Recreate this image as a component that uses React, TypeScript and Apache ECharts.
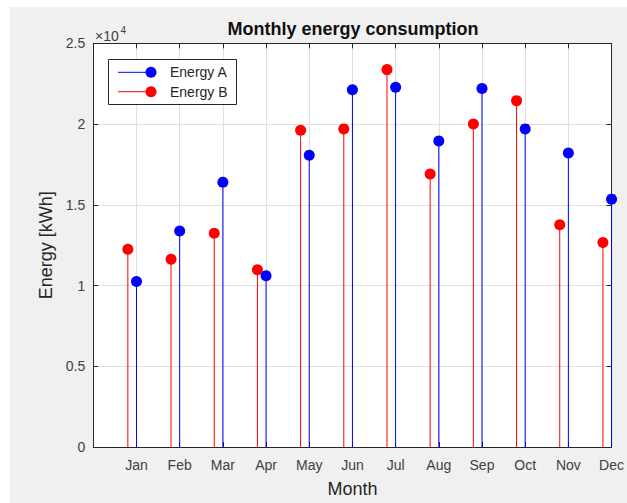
import React, { useEffect, useRef } from "react";
import * as echarts from "echarts";

const months = ["Jan", "Feb", "Mar", "Apr", "May", "Jun", "Jul", "Aug", "Sep", "Oct", "Nov", "Dec"];
const energyA = [10250, 13370, 16400, 10610, 18070, 22120, 22280, 18950, 22200, 19700, 18210, 15350];
const energyB = [12240, 11630, 13230, 10980, 19620, 19700, 23370, 16910, 20000, 21450, 13760, 12670];
const offsetB = 0.2;
const seriesNames = ["Energy A", "Energy B"];
const colorA = "#0000ff";
const colorB = "#ff0000";

const FONT = "'Liberation Sans', Arial, Helvetica, sans-serif";
const AXIS_COLOR = "#262626";
const LABEL_COLOR = "#404040";
const GRID_COLOR = "#dfdfdf";

function stemRenderer(color: string) {
  return (params: any, api: any) => {
    const x = api.value(0);
    const y = api.value(1);
    const base = api.coord([x, 0]);
    const top = api.coord([x, y]);
    return {
      type: "group",
      children: [
        {
          type: "line",
          shape: { x1: base[0], y1: base[1], x2: top[0], y2: top[1] },
          style: { stroke: color, lineWidth: 1 },
        },
        {
          type: "circle",
          shape: { cx: top[0], cy: top[1], r: 5.5 },
          style: { fill: color },
        },
      ],
    };
  };
}

export default function App() {
  const ref = useRef<HTMLDivElement>(null);

  useEffect(() => {
    if (!ref.current) return;
    const chart = echarts.init(ref.current, undefined, { renderer: "svg" });

    const axisLine = { show: true, onZero: false, lineStyle: { color: AXIS_COLOR, width: 1 } };
    const axisTick = { show: true, inside: true, length: 5, lineStyle: { color: AXIS_COLOR, width: 1 } };

    const legendRow = (y: number, color: string, text: string) => [
      {
        type: "line",
        z: 101,
        shape: { x1: 108, y1: y, x2: 141, y2: y },
        style: { stroke: color, lineWidth: 1 },
      },
      {
        type: "circle",
        z: 101,
        shape: { cx: 141, cy: y, r: 5.5 },
        style: { fill: color },
      },
      {
        type: "text",
        z: 101,
        x: 160,
        y: y,
        style: {
          text,
          fontSize: 14,
          fontFamily: FONT,
          fill: AXIS_COLOR,
          textVerticalAlign: "middle",
          verticalAlign: "middle",
        },
      },
    ];

    chart.setOption({
      animation: false,
      backgroundColor: "#f0f0f0",
      grid: {
        left: 83.3,
        right: 14,
        top: 36.3,
        bottom: 47,
        show: true,
        backgroundColor: "#ffffff",
        borderWidth: 0,
      },
      xAxis: [
        {
          type: "value",
          position: "bottom",
          min: 0,
          max: 12,
          interval: 1,
          axisLine,
          axisTick,
          axisLabel: {
            formatter: (v: number) => months[v - 1] ?? "",
            color: LABEL_COLOR,
            fontSize: 14,
            fontFamily: FONT,
            margin: 11,
          },
          splitLine: { show: true, lineStyle: { color: GRID_COLOR, width: 1 } },
          name: "Month",
          nameLocation: "middle",
          nameGap: 33,
          nameTextStyle: { fontSize: 18, color: AXIS_COLOR, fontFamily: FONT },
        },
        {
          type: "value",
          position: "top",
          min: 0,
          max: 12,
          interval: 1,
          axisLine,
          axisTick,
          axisLabel: { show: false },
          splitLine: { show: false },
        },
      ],
      yAxis: [
        {
          type: "value",
          position: "left",
          min: 0,
          max: 25000,
          interval: 5000,
          axisLine,
          axisTick,
          axisLabel: {
            formatter: (v: number) => String(v / 10000),
            color: LABEL_COLOR,
            fontSize: 14,
            fontFamily: FONT,
            margin: 8,
          },
          splitLine: { show: true, lineStyle: { color: GRID_COLOR, width: 1 } },
          name: "Energy [kWh]",
          nameLocation: "middle",
          nameGap: 37,
          nameTextStyle: { fontSize: 18, color: AXIS_COLOR, fontFamily: FONT },
        },
        {
          type: "value",
          position: "right",
          min: 0,
          max: 25000,
          interval: 5000,
          axisLine,
          axisTick,
          axisLabel: { show: false },
          splitLine: { show: false },
        },
      ],
      series: [
        {
          type: "custom",
          name: seriesNames[1],
          xAxisIndex: 0,
          yAxisIndex: 0,
          encode: { x: 0, y: 1 },
          data: energyB.map((v, i) => [i + 1 - offsetB, v]),
          renderItem: stemRenderer(colorB),
          clip: false,
          z: 3,
        },
        {
          type: "custom",
          name: seriesNames[0],
          xAxisIndex: 0,
          yAxisIndex: 0,
          encode: { x: 0, y: 1 },
          data: energyA.map((v, i) => [i + 1, v]),
          renderItem: stemRenderer(colorA),
          clip: false,
          z: 4,
        },
      ],
      graphic: [
        {
          type: "text",
          z: 100,
          x: 343,
          y: 22,
          style: {
            text: "Monthly energy consumption",
            fontSize: 18,
            fontWeight: "bold",
            fontFamily: FONT,
            fill: "#111111",
            textAlign: "center",
            align: "center",
            textVerticalAlign: "middle",
            verticalAlign: "middle",
          },
        },
        {
          type: "text",
          z: 100,
          x: 85,
          y: 28.5,
          style: {
            text: "×10",
            fontSize: 14,
            fontFamily: FONT,
            fill: LABEL_COLOR,
            textVerticalAlign: "middle",
            verticalAlign: "middle",
          },
        },
        {
          type: "text",
          z: 100,
          x: 110.5,
          y: 23.5,
          style: {
            text: "4",
            fontSize: 10,
            fontFamily: FONT,
            fill: LABEL_COLOR,
            textVerticalAlign: "middle",
            verticalAlign: "middle",
          },
        },
        {
          type: "rect",
          z: 100,
          shape: { x: 98.5, y: 52.5, width: 128, height: 45 },
          style: { fill: "#ffffff", stroke: AXIS_COLOR, lineWidth: 1 },
        },
        ...legendRow(65.3, colorA, seriesNames[0]),
        ...legendRow(84.7, colorB, seriesNames[1]),
      ],
    });

    return () => chart.dispose();
  }, []);

  return (
    <div
      ref={ref}
      style={{ position: "absolute", left: 10, top: 7, width: 617, height: 496 }}
    />
  );
}
